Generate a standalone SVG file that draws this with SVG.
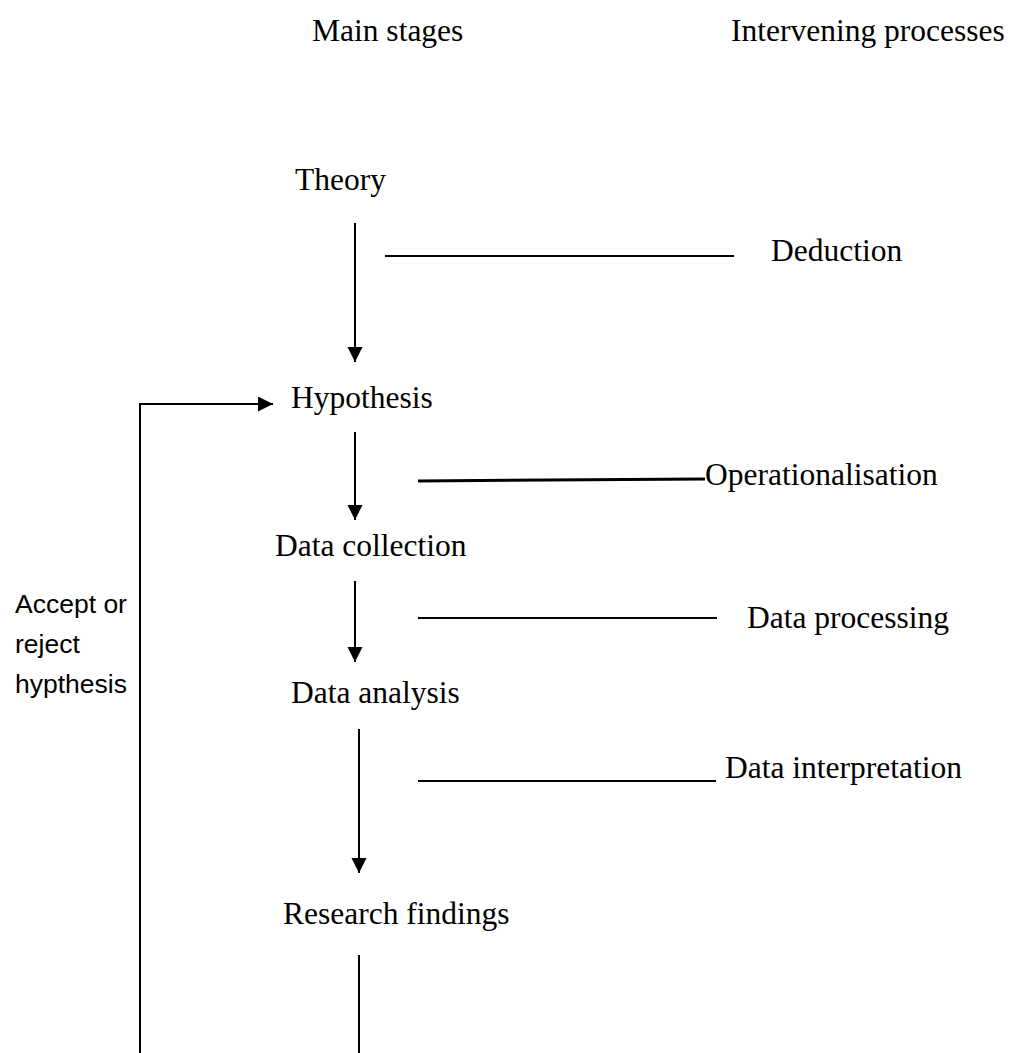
<svg xmlns="http://www.w3.org/2000/svg" width="1018" height="1053" viewBox="0 0 1018 1053">
<style>
.t{font-family:"Liberation Serif","Times New Roman",serif;font-size:31.5px;fill:#000}
.s{font-family:"Liberation Sans",Arial,sans-serif;font-size:26.5px;fill:#000}
.ln{stroke:#000;stroke-width:2;fill:none}
</style>
<defs>
<marker id="ah" markerUnits="userSpaceOnUse" markerWidth="16" markerHeight="16" refX="15" refY="7.5" orient="auto">
<path d="M0,0 L15,7.5 L0,15 z" fill="#000"/>
</marker>
</defs>
<rect width="1018" height="1053" fill="#fff"/>
<g id="headers">
<text class="t" x="312" y="41">Main stages</text>
<text class="t" x="731" y="41">Intervening processes</text>
</g>
<g id="theory"><text class="t" x="295" y="190">Theory</text></g>
<g id="hypothesis"><text class="t" x="291" y="408">Hypothesis</text></g>
<g id="data-collection"><text class="t" x="275" y="556">Data collection</text></g>
<g id="data-analysis"><text class="t" x="291" y="703">Data analysis</text></g>
<g id="research-findings"><text class="t" x="283" y="924">Research findings</text></g>
<g id="deduction"><text class="t" x="771" y="261">Deduction</text></g>
<g id="operationalisation"><text class="t" x="705" y="485">Operationalisation</text></g>
<g id="data-processing"><text class="t" x="747" y="628">Data processing</text></g>
<g id="data-interpretation"><text class="t" x="725" y="778">Data interpretation</text></g>
<g id="feedback-label">
<text class="s" x="15" y="613">Accept or</text>
<text class="s" x="15" y="653">reject</text>
<text class="s" x="15" y="693">hypthesis</text>
</g>
<g id="connectors">
<line class="ln" x1="355" y1="223" x2="355" y2="362" marker-end="url(#ah)"/>
<line class="ln" x1="355" y1="432" x2="355" y2="520" marker-end="url(#ah)"/>
<line class="ln" x1="355" y1="581" x2="355" y2="662" marker-end="url(#ah)"/>
<line class="ln" x1="359" y1="729" x2="359" y2="873" marker-end="url(#ah)"/>
<line class="ln" x1="359" y1="955" x2="359" y2="1053"/>
<path class="ln" d="M140,1053 V404 H273" marker-end="url(#ah)"/>
<line class="ln" x1="385" y1="256" x2="734" y2="256"/>
<line x1="418" y1="481" x2="705" y2="479" stroke="#000" stroke-width="3"/>
<line class="ln" x1="418" y1="618" x2="717" y2="618"/>
<line class="ln" x1="418" y1="781" x2="716" y2="781"/>
</g>
</svg>
